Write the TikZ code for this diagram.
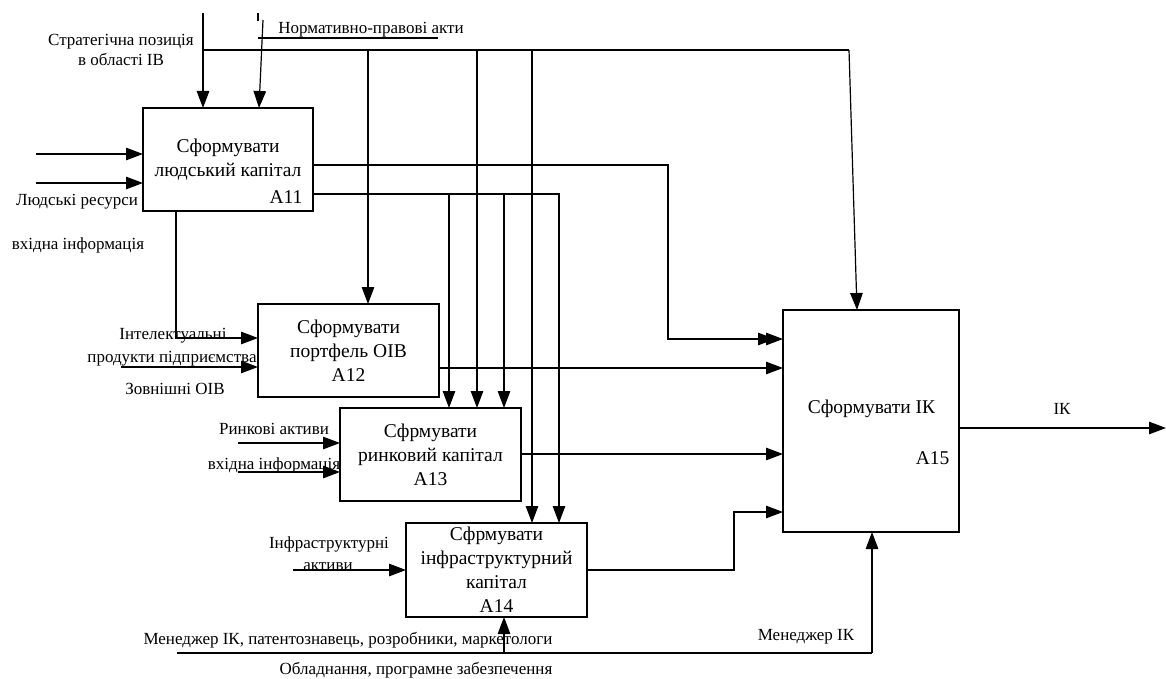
\documentclass[tikz,border=0pt]{standalone}
\usepackage{fontspec}
\setmainfont{Liberation Serif}
\usetikzlibrary{arrows.meta,calc}
\newcommand{\lblfont}{\fontsize{17}{20}\selectfont}
\newcommand{\blkfont}{\fontsize{19.5}{24}\selectfont}

\begin{document}
\begin{tikzpicture}[x=1pt,y=-1pt,line width=1.2pt,
  blk/.style={draw,outer sep=0pt,inner sep=0pt,font=\blkfont,align=center},
  arr/.style={-{Triangle[length=17pt,width=12.5pt]}},
  arrdbl/.style={-{Triangle[length=17pt,width=12.5pt,sep=-9pt]Triangle[length=17pt,width=12.5pt]}},
  lbl/.style={font=\lblfont,inner sep=0pt,align=center},
  btxt/.style={font=\blkfont,inner sep=0pt,align=center}]
\useasboundingbox (0,0) rectangle (1166,679);
% blocks
\node[blk,minimum width=170pt,minimum height=103pt] (a11) at (228,159.5) {};
\node[btxt] (a11t) at (228,160) {Сформувати\\людський капітал};
\node[btxt,anchor=east] (a11n) at (303,197) {А11};
\node[blk,minimum width=181pt,minimum height=93pt] (a12) at (348.5,350.5) {Сформувати\\портфель ОІВ\\А12};
\node[blk,minimum width=181pt,minimum height=93pt] (a13) at (430.5,454.5) {Сфрмувати\\ринковий капітал\\А13};
\node[blk,minimum width=181pt,minimum height=94pt] (a14) at (496.5,570) {Сфрмувати\\інфраструктурний\\капітал\\А14};
\node[blk,minimum width=176pt,minimum height=222pt] (a15) at (871,421) {};
\node[btxt] (a15t) at (871.5,409) {Сформувати ІК};
\node[btxt,anchor=east] (a15n) at (950,458) {А15};

% labels
\node[lbl] (lstrat) at (121,50) {Стратегічна позиція\\в області ІВ};
\node[lbl] (lnorm) at (371,30) {Нормативно-правові акти};
\node[lbl] (lhum) at (77,202) {Людські ресурси};
\node[lbl] (lin1) at (78,245) {вхідна інформація};
\node[lbl] (lint) at (173,336) {Інтелектуальні};
\node[lbl] (lprod) at (172,359) {продукти підприємства};
\node[lbl] (lext) at (175,389) {Зовнішні ОІВ};
\node[lbl] (lmark) at (274,429) {Ринкові активи};
\node[lbl] (lin2) at (274,465) {вхідна інформація};
\node[lbl] (linf) at (329,544) {Інфраструктурні};
\node[lbl] (lact) at (328,567) {активи};
\node[lbl] (lstaff) at (348,640) {Менеджер ІК, патентознавець, розробники, маркетологи};
\node[lbl] (lequip) at (416,670) {Обладнання, програмне забезпечення};
\node[lbl] (lman) at (806,637) {Менеджер ІК};
\node[lbl] (lik) at (1062,409) {ІК};

% free ends
\coordinate (strat) at (203,13);
\coordinate (sj) at (203,50);
\coordinate (sc) at (849,50);
\coordinate (norm) at (263,20);
\coordinate (mech) at (177,653);
\coordinate (mj) at (872,653);
\coordinate (out) at (1166,428);

% controls
\draw[arr] (strat) -- (strat |- a11.north);
\draw (sj) -- (sc);
\draw[arr] (sc) -- (857,0 |- a15.north);
\foreach \x/\b in {368/a12,477/a13,532/a14}
  \draw[arr] (\x,50) -- (\x,0 |- \b.north);
\draw (258,13) -- (258,21);
\draw (258,38) -- (438,38);
\draw[arr] (norm) -- (259,0 |- a11.north);

% inputs
\foreach \y in {154,183} \draw[arr] (36,\y) -- (36,\y -| a11.west);
\draw[arr] (176,0 |- a11.south) -- (176,338) -- (176,338 -| a12.west);
\draw[arr] (121,367) -- (121,367 -| a12.west);
\foreach \y in {443,472} \draw[arr] (238,\y) -- (238,\y -| a13.west);
\draw[arr] (293,570) -- (293,570 -| a14.west);

% outputs of A11
\draw[arrdbl] (a11.east |- 0,165) -- (668,165) -- (668,339) -- (a15.west |- 0,339);
\draw[arr] (a11.east |- 0,194) -- (559,194) -- (559,0 |- a14.north);
\foreach \x in {449,504} \draw[arr] (\x,194) -- (\x,0 |- a13.north);

% outputs to A15
\draw[arr] (a12.east |- 0,368) -- (a15.west |- 0,368);
\draw[arr] (a13.east |- 0,454) -- (a15.west |- 0,454);
\draw[arr] (a14.east |- 0,570) -- (734,570) -- (734,512) -- (a15.west |- 0,512);
\draw[arr] (a15.east |- out) -- (out);

% mechanisms
\draw (mech) -- (mj);
\draw[arr] (mj) -- (mj |- a15.south);
\draw[arr] (504,653) -- (504,0 |- a14.south);
\end{tikzpicture}
\end{document}
